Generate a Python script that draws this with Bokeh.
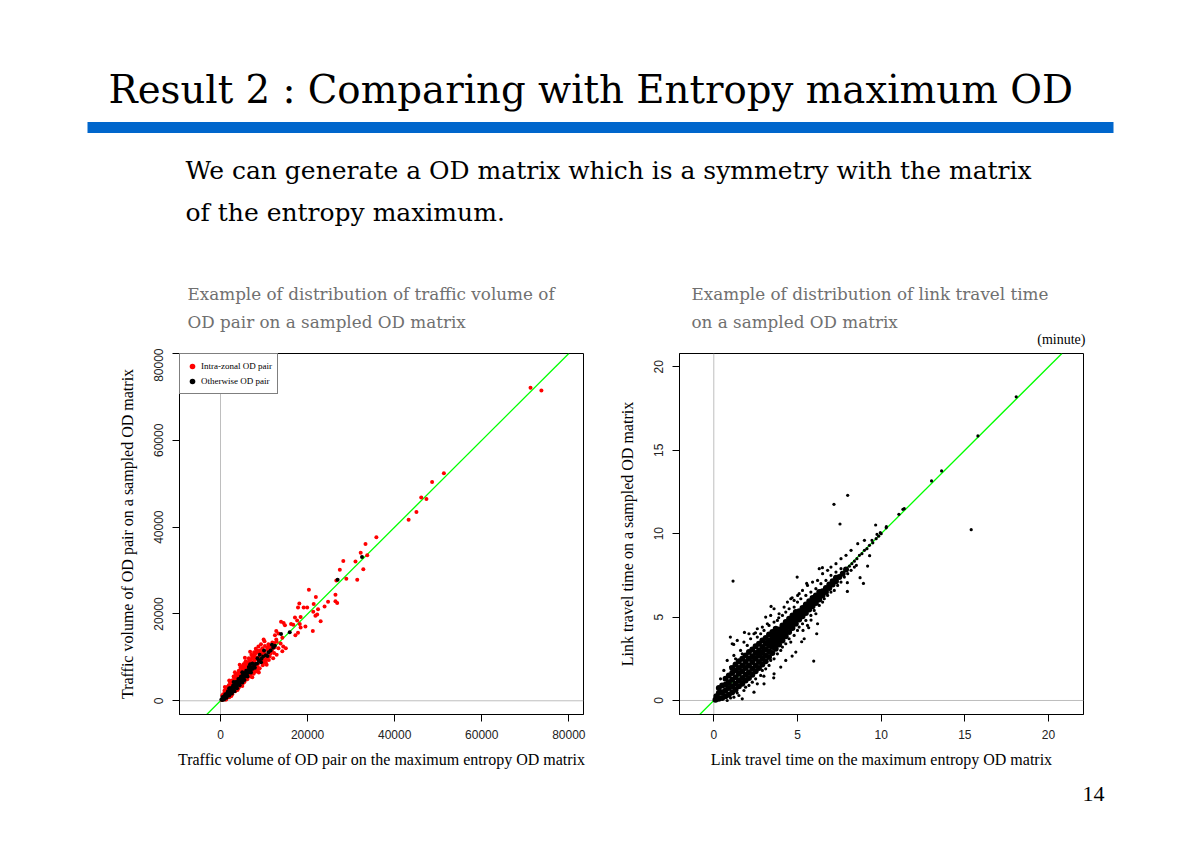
from bokeh.plotting import figure
from bokeh.models import Range1d, Label, Span, Slope, FixedTicker, Legend, LegendItem
from bokeh.layouts import column, row
from bokeh.embed import file_html
from bokeh.resources import INLINE

# ---------------- Data: left chart (traffic volume of OD pair) ----------------
left_ticks = [0, 20000, 40000, 60000, 80000]

intra_zonal = [
    (71200, 72100), (73700, 71500), (51300, 52400), (48600, 50400), (46100, 46800), (47300, 46500),
    (45000, 43500), (43200, 41700), (35800, 37700), (33300, 36100), (32200, 34100), (33700, 33500),
    (31000, 32100), (28200, 32200), (27400, 30200), (32800, 30300), (28900, 28100), (31400, 27900),
    (26600, 27700), (26400, 24400), (26400, 22900), (26800, 22500), (20300, 25600), (21900, 23900),
    (18100, 22400), (19100, 21500), (19900, 21500), (17800, 21500), (21400, 22300), (22400, 21100),
    (24700, 22800), (23900, 21700), (21300, 20500), (22200, 19900), (21800, 19600), (18400, 19300),
    (17100, 19200), (17600, 18500), (16200, 17700), (18200, 17700), (19500, 17100), (23000, 18300),
    (18400, 16900), (21200, 16100), (17800, 15700), (17200, 15100), (16700, 17500), (14800, 17400),
    (13900, 18200), (12800, 16100), (13300, 15500), (14500, 17900), (14200, 14500), (12500, 15100),
    (12800, 14100), (13800, 13200), (14400, 12500), (15000, 12100), (14200, 11400), (12300, 13300),
    (11800, 12800), (11100, 12600), (11300, 11800), (9800, 11400), (11500, 10900), (12300, 11000),
    (10700, 9500),
    (300, 200), (500, 900), (700, 400), (800, 1300), (900, 700), (1000, 1800), (1100, 300), (1200, 1100),
    (1300, 2000), (1400, 700), (1500, 1500), (1600, 2500), (1700, 1000), (1800, 1900), (1900, 2900),
    (2000, 1300), (2100, 2300), (2200, 3300), (2300, 1600), (2400, 2700), (2500, 3700), (2600, 1900),
    (2700, 3100), (2800, 4100), (2900, 2200), (3000, 3400), (3100, 4500), (3200, 2600), (3300, 3800),
    (3400, 5000), (3500, 2900), (3600, 4200), (3700, 5400), (3800, 3200), (3900, 4600), (4000, 5800),
    (4100, 3500), (4200, 4900), (4300, 6200), (4400, 3900), (4500, 5300), (4600, 6600), (4700, 4200),
    (4800, 5700), (4900, 7000), (5000, 4500), (5100, 6000), (5200, 7400), (5300, 4900), (5400, 6400),
    (5500, 7700), (5600, 5200), (5700, 6800), (5800, 8100), (5900, 5600), (6000, 7100), (6100, 8500),
    (6200, 5900), (6300, 7500), (6400, 8800), (6500, 6300), (6600, 7800), (6700, 9200), (6800, 6600),
    (6900, 8200), (7000, 9500), (7100, 7000), (7200, 8600), (7300, 9900), (7400, 7300), (7500, 8900),
    (7600, 10300), (7700, 7700), (7800, 9300), (7900, 10700), (8000, 8000), (8200, 9600), (8400, 11100),
    (8600, 8500), (8800, 10100), (9000, 11600), (9200, 8900), (9400, 10600), (9600, 12100), (9800, 9400),
    (10000, 11100), (10200, 12600), (10500, 9700), (10800, 11700), (11000, 13000), (11300, 10200),
    (11600, 12100), (11900, 13400), (8300, 7000), (9000, 7500), (9700, 8200), (10400, 8800),
    (11100, 9400), (7600, 6200), (6900, 5600), (6200, 5000), (5500, 4300), (4800, 3700), (4100, 2900),
    (3400, 2200), (2700, 1500), (2000, 800), (1300, 300), (3000, 5600), (4200, 6900), (5300, 8400),
    (6500, 9800), (7700, 11200), (8700, 12500), (2200, 4200), (1500, 3100), (900, 2300), (600, 1500),
    (1900, 3600), (2600, 4600), (3500, 6100), (4600, 7600), (5800, 9100), (7100, 10600), (8100, 12000),
    (9300, 13000), (10100, 13700),
    (400, 1200), (600, 300), (1100, 2500), (1400, 1900), (1700, 3200), (1800, 1300), (2300, 3800),
    (2500, 1100), (2600, 3400), (2900, 4800), (3100, 3900), (3300, 5500), (3600, 2500), (3800, 4800),
    (4000, 6300), (4300, 3300), (4500, 4600), (4700, 6100), (4900, 7900), (5200, 4100), (5400, 5600),
    (5600, 7100), (5700, 8800), (6000, 4900), (6200, 6400), (6400, 7700), (6600, 9400), (6900, 6300),
    (7100, 8000), (7300, 10300), (7500, 6900), (7800, 8400), (8000, 10000), (8300, 11600), (8500, 7800),
    (8900, 9100), (9200, 10900), (9500, 11200), (10100, 9300), (10300, 10600), (10700, 12200),
    (11200, 11200), (11800, 11500), (12400, 12300), (12900, 13600), (13300, 12100), (8000, 6700),
    (8800, 7300), (9900, 8700), (5000, 3400), (3900, 2500), (2500, 1500),
    (1000, 3200), (2000, 4700), (3300, 6600), (4400, 8300), (5600, 9900), (6800, 11300), (9900, 14100),
    (8800, 6500), (10600, 8300), (12100, 9800), (12900, 10600), (7300, 5400),
]

otherwise = [
    (200, 300), (400, 200), (600, 700), (700, 400), (900, 1000), (1000, 700), (1200, 1300), (1300, 900),
    (1500, 1600), (1600, 1200), (1800, 2000), (1900, 1500), (2100, 2300), (2200, 1800), (2400, 2700),
    (2500, 2200), (2700, 3000), (2800, 2500), (3000, 3300), (3100, 2800), (3300, 3700), (3400, 3100),
    (3600, 4000), (3700, 3500), (3900, 4400), (4000, 3800), (4200, 4700), (4300, 4200), (4500, 5100),
    (4600, 4500), (4800, 5400), (4900, 4900), (5100, 5800), (5200, 5200), (5400, 6100), (5600, 5600),
    (5800, 6500), (6000, 6100), (6200, 7000), (6400, 6500), (6600, 7300), (6900, 7000), (7100, 7700),
    (7400, 7400), (7700, 8200), (8000, 8500), (8400, 8600), (8800, 9300), (9000, 10600), (9400, 9700),
    (9800, 10200), (10400, 10500), (11000, 11200), (11500, 11600), (12100, 12200), (12500, 12700),
    (13900, 15400), (15900, 15800), (26900, 27900), (32500, 33100), (3000, 4300), (5000, 6600),
    (2000, 2900), (6800, 8400),
    (500, 900), (800, 300), (1100, 1500), (1400, 700), (1700, 2200), (2000, 1200), (2300, 2900),
    (2600, 1700), (2900, 3500), (3200, 2200), (3500, 4300), (3800, 2900), (4100, 5000), (4400, 3600),
    (4700, 5600), (5000, 4200), (5300, 6300), (5500, 4800), (5900, 6900), (6200, 5600), (6500, 7800),
    (7000, 6500), (7300, 8600), (7900, 7600), (8500, 9800), (9300, 8900), (10000, 11600), (10800, 10300),
    (11800, 12900),
]

# ---------------- Data: right chart (link travel time, minutes) ----------------
right_ticks = [0, 5, 10, 15, 20]

# dense core of the cloud (drawn with larger dots so that it reads as solid)
link_core = [
    (0.1, 0.05), (0.15, 0.25), (0.3, 0.1), (0.3, 0.45), (0.3, 0.75), (0.5, 0.15), (0.5, 0.5), (0.5, 0.9),
    (0.7, 0.25), (0.7, 0.6), (0.7, 0.95), (0.7, 1.3), (0.9, 0.35), (0.9, 0.75), (0.9, 1.1), (0.9, 1.5),
    (1.1, 0.5), (1.1, 0.85), (1.1, 1.25), (1.1, 1.65), (1.1, 1.95), (1.3, 0.65), (1.3, 1.0), (1.3, 1.4),
    (1.3, 1.8), (1.3, 2.15), (1.5, 0.85), (1.5, 1.2), (1.5, 1.6), (1.5, 1.95), (1.5, 2.35), (1.7, 1.0),
    (1.7, 1.35), (1.7, 1.75), (1.7, 2.1), (1.7, 2.5), (1.9, 1.2), (1.9, 1.55), (1.9, 1.95), (1.9, 2.3),
    (1.9, 2.7), (2.1, 1.35), (2.1, 1.7), (2.1, 2.1), (2.1, 2.5), (2.1, 2.9), (2.3, 1.55), (2.3, 1.9),
    (2.3, 2.3), (2.3, 2.65), (2.3, 3.05), (2.5, 1.75), (2.5, 2.1), (2.5, 2.5), (2.5, 2.85), (2.5, 3.25),
    (2.7, 1.95), (2.7, 2.3), (2.7, 2.7), (2.7, 3.0), (2.7, 3.4), (2.9, 2.15), (2.9, 2.5), (2.9, 2.85),
    (2.9, 3.2), (2.9, 3.6), (3.1, 2.35), (3.1, 2.7), (3.1, 3.05), (3.1, 3.4), (3.1, 3.75), (3.3, 2.6),
    (3.3, 2.95), (3.3, 3.3), (3.3, 3.6), (3.3, 3.95), (3.5, 2.85), (3.5, 3.2), (3.5, 3.5), (3.5, 3.8),
    (3.5, 4.1), (3.7, 3.1), (3.7, 3.4), (3.7, 3.7), (3.7, 4.0), (3.7, 4.3), (3.9, 3.35), (3.9, 3.65),
    (3.9, 3.95), (3.9, 4.25), (4.1, 3.6), (4.1, 3.9), (4.1, 4.2), (4.1, 4.5), (4.3, 3.85), (4.3, 4.15),
    (4.3, 4.4), (4.3, 4.7), (4.5, 4.1), (4.5, 4.4), (4.5, 4.65), (4.5, 4.9), (4.7, 4.35), (4.7, 4.65),
    (4.7, 4.9), (4.7, 5.1), (4.9, 4.6), (4.9, 4.85), (4.9, 5.1), (4.9, 5.3), (5.1, 4.85), (5.1, 5.1),
    (5.1, 5.35), (5.3, 5.05), (5.3, 5.3), (5.3, 5.55), (5.5, 5.25), (5.5, 5.5), (5.5, 5.75), (5.7, 5.45),
    (5.7, 5.7), (5.7, 5.95), (5.9, 5.65), (5.9, 5.9), (5.9, 6.15), (6.1, 5.85), (6.1, 6.1), (6.1, 6.3),
    (6.3, 6.05), (6.3, 6.3), (6.3, 6.5), (6.5, 6.3), (6.5, 6.55), (6.7, 6.5), (6.7, 6.75), (6.9, 6.75),
    (6.9, 6.95), (7.1, 6.95), (7.1, 7.15), (7.3, 7.15), (7.3, 7.35), (7.5, 7.4), (7.7, 7.6), (7.9, 7.85),
]

# individual links outside the dense core
link_scatter = [
    (18.07, 18.2), (15.78, 15.86), (13.61, 13.76), (13.01, 13.16), (11.3, 11.46), (11.38, 11.5),
    (11.06, 11.16), (15.38, 10.24), (8.0, 12.3), (7.18, 11.76), (7.54, 10.58), (9.67, 10.52),
    (10.31, 10.42), (9.95, 10.06), (9.75, 9.96), (9.45, 9.6), (1.15, 7.16), (6.49, 7.96), (4.98, 7.4),
    (5.55, 7.02), (9.19, 8.06), (9.31, 8.68), (8.74, 7.36), (8.94, 7.02), (7.98, 6.54), (7.98, 7.06),
    (8.52, 8.1), (5.97, 2.36), (4.68, 2.66), (5.25, 3.52), (6.15, 4.0), (5.67, 4.36), (5.33, 4.2),
    (5.81, 4.82), (3.58, 1.36), (2.99, 1.46), (0.99, 3.8), (1.19, 3.36), (1.83, 4.08), (2.49, 4.06),
    (3.42, 5.64), (4.68, 6.16), (5.01, 6.3), (3.88, 4.96), (4.14, 4.26),
    (8.1, 8.05), (8.25, 8.2), (8.4, 8.35), (8.55, 8.5), (8.7, 8.7), (8.85, 8.8), (9.0, 9.0), (9.15, 9.1),
    (9.3, 9.3), (9.5, 9.45), (9.7, 9.7), (9.85, 9.85), (10.0, 10.0), (10.3, 10.35),
    (0.4, 1.3), (0.6, 1.8), (0.8, 2.4), (1.0, 2.0), (1.2, 2.7), (1.1, 3.4), (1.4, 3.6), (1.3, 2.5),
    (1.6, 3.0), (1.8, 3.5), (1.7, 2.8), (2.0, 3.3), (2.2, 3.7), (2.1, 4.0), (2.4, 4.0), (2.6, 3.8),
    (2.6, 4.3), (2.9, 4.4), (2.8, 4.0), (3.2, 4.6), (3.0, 4.2), (3.4, 5.1), (3.3, 4.5), (3.6, 5.5),
    (3.6, 4.7), (3.1, 5.0), (3.9, 5.2), (3.8, 4.8), (4.2, 5.6), (4.1, 5.1), (4.4, 5.9), (4.3, 5.3),
    (4.6, 6.1), (4.5, 5.5), (4.8, 6.0), (4.8, 5.6), (5.1, 6.4), (5.0, 5.9), (5.3, 6.6), (5.2, 6.1),
    (5.6, 6.9), (5.5, 6.3), (5.9, 7.1), (5.8, 6.5), (6.2, 7.2), (6.1, 6.7), (6.3, 7.9), (6.5, 7.6),
    (6.4, 7.0), (6.8, 7.8), (6.7, 7.2), (7.0, 8.0), (7.0, 7.5), (7.3, 8.2), (7.3, 7.7), (7.6, 8.5),
    (7.6, 7.9), (7.9, 8.7), (8.2, 9.0), (8.6, 9.4), (9.0, 9.6),
    (0.8, 0.0), (1.0, 0.15), (1.2, 0.2), (1.4, 0.45), (1.5, 0.3), (1.8, 0.6), (1.9, 0.8), (2.1, 0.9),
    (2.3, 1.1), (2.5, 1.3), (2.6, 1.0), (2.8, 1.5), (2.9, 1.8), (3.1, 1.9), (3.3, 2.1), (3.4, 2.4),
    (3.6, 2.5), (3.8, 2.8), (4.0, 3.0), (4.1, 3.2), (4.3, 3.4), (4.5, 3.7), (4.6, 3.5), (4.8, 3.9),
    (5.0, 4.2), (5.1, 4.4), (5.3, 4.6), (5.5, 4.8), (5.6, 4.5), (5.8, 5.1), (6.0, 5.4), (6.1, 5.2),
    (6.3, 5.7), (6.5, 5.9), (6.6, 6.1), (6.8, 6.3), (7.0, 6.5), (7.2, 6.6), (7.4, 6.9), (7.6, 7.1),
    (7.8, 7.4), (8.0, 7.6), (8.2, 7.8), (8.4, 8.0), (3.0, 1.0), (3.6, 1.6), (4.3, 2.4), (4.9, 2.9),
    (2.4, 0.5), (1.7, 0.1), (5.4, 3.7), (6.2, 4.6), (4.0, 2.0),
]

# ---------------- Text ----------------
slide_title = "Result 2 : Comparing with Entropy maximum OD"
subtitle_lines = ["We can generate a OD matrix which is a symmetry with the matrix",
                  "of the entropy maximum."]
left_caption = ["Example of distribution of traffic volume of", "OD pair on a sampled OD matrix"]
right_caption = ["Example of distribution of link travel time", "on a sampled OD matrix"]
left_xlabel = "Traffic volume of OD pair on the maximum entropy OD matrix"
left_ylabel = "Traffic volume of OD pair on a sampled OD matrix"
right_xlabel = "Link travel time on the maximum entropy OD matrix"
right_ylabel = "Link travel time on a sampled OD matrix"
legend_labels = ["Intra-zonal OD pair", "Otherwise OD pair"]
unit_note = "(minute)"
page_number = "14"

SLIDE_SERIF = "DejaVu Serif"
SERIF = "Liberation Serif"
SANS = "Liberation Sans"


def xs(pts):
    return [p[0] for p in pts]


def ys(pts):
    return [p[1] for p in pts]


def blank_fig(w, h, xr, yr):
    f = figure(width=w, height=h, x_range=Range1d(*xr), y_range=Range1d(*yr),
               output_backend="svg", toolbar_location=None,
               min_border_left=0, min_border_right=0, min_border_top=0, min_border_bottom=0)
    f.axis.visible = False
    f.grid.visible = False
    f.outline_line_color = None
    return f


def text_label(x, y, text, font, size, color="black", align="left"):
    return Label(x=x, y=y, text=text, text_font=font, text_font_size=size, text_color=color,
                 text_align=align, text_baseline="middle")


# ---------------- Header (slide title, subtitle, captions) ----------------
header = blank_fig(1184, 348, (0, 1184), (348, 0))
header.quad(left=[87], right=[1113], top=[121.5], bottom=[132.5], fill_color="#0066CC", line_color=None)
header.add_layout(text_label(108, 89, slide_title, SLIDE_SERIF, "38.7px"))
for i, line in enumerate(subtitle_lines):
    header.add_layout(text_label(185, 170 + 42 * i, line, SLIDE_SERIF, "25px"))
for i, line in enumerate(left_caption):
    header.add_layout(text_label(187, 293 + 28 * i, line, SLIDE_SERIF, "16.8px", "#707070"))
for i, line in enumerate(right_caption):
    header.add_layout(text_label(691, 293 + 28 * i, line, SLIDE_SERIF, "16.8px", "#707070"))
header.add_layout(text_label(1085, 339, unit_note, SERIF, "14px", "black", "right"))


def style_plot(p, ticks, xlabel, ylabel):
    p.grid.visible = False
    p.outline_line_color = "black"
    p.outline_line_width = 1
    for ax in (p.xaxis, p.yaxis):
        ax.ticker = FixedTicker(ticks=ticks)
        ax.minor_tick_line_color = None
        ax.major_tick_out = 7
        ax.major_tick_in = 0
        ax.major_label_text_font = SANS
        ax.major_label_text_font_size = "12px"
        ax.major_label_text_color = "#222222"
        ax.axis_label_text_font = SERIF
        ax.axis_label_text_font_size = "16px"
        ax.axis_label_text_font_style = "normal"
        ax.axis_label_text_color = "black"
        ax.axis_line_color = "black"
        ax.major_tick_line_color = "black"
    p.xaxis.axis_label = xlabel
    p.yaxis.axis_label = ylabel
    p.xaxis.major_label_standoff = 8
    p.yaxis.major_label_standoff = 9
    p.xaxis.axis_label_standoff = 9
    p.yaxis.axis_label_standoff = 16
    p.yaxis.major_label_orientation = "parallel"
    p.add_layout(Span(location=0, dimension="height", line_color="#BEBEBE", line_width=1, level="underlay"))
    p.add_layout(Span(location=0, dimension="width", line_color="#BEBEBE", line_width=1, level="underlay"))
    p.add_layout(Slope(gradient=1, y_intercept=0, line_color="#00FF00", line_width=1.3, level="underlay"))


# ---------------- Left plot ----------------
left = figure(width=610, height=433, x_range=Range1d(-9420, 83370), y_range=Range1d(-3160, 80000),
              output_backend="svg", toolbar_location=None,
              min_border_left=179, min_border_right=27, min_border_top=5, min_border_bottom=67)
style_plot(left, left_ticks, left_xlabel, left_ylabel)
r_red = left.scatter(xs(intra_zonal), ys(intra_zonal), marker="circle", size=4,
                     fill_color="#FF0000", line_color=None)
r_black = left.scatter(xs(otherwise), ys(otherwise), marker="circle", size=4,
                       fill_color="black", line_color=None)
legend = Legend(items=[LegendItem(label=legend_labels[0], renderers=[r_red]),
                       LegendItem(label=legend_labels[1], renderers=[r_black])],
                location="top_left", margin=0, padding=5, spacing=1,
                glyph_width=14, glyph_height=14, label_height=14, label_standoff=2,
                label_text_font=SERIF, label_text_font_size="9px", label_text_color="black",
                border_line_color="black", border_line_width=1, background_fill_color="white",
                background_fill_alpha=1)
left.add_layout(legend)

# ---------------- Right plot ----------------
right = figure(width=574, height=433, x_range=Range1d(-2.05, 22.09), y_range=Range1d(-0.84, 20.8),
               output_backend="svg", toolbar_location=None,
               min_border_left=69, min_border_right=101, min_border_top=5, min_border_bottom=67)
style_plot(right, right_ticks, right_xlabel, right_ylabel)
right.scatter(xs(link_core), ys(link_core), marker="circle", size=6, fill_color="black", line_color=None)
right.scatter(xs(link_scatter), ys(link_scatter), marker="circle", size=3.2, fill_color="black",
              line_color=None)

# ---------------- Footer (page number) ----------------
footer = blank_fig(1184, 51, (0, 1184), (832, 781))
footer.add_layout(text_label(1082, 793, page_number, SERIF, "22px"))

layout = column(header, row(left, right), footer)
open("out.html", "w").write(file_html(layout, INLINE))
